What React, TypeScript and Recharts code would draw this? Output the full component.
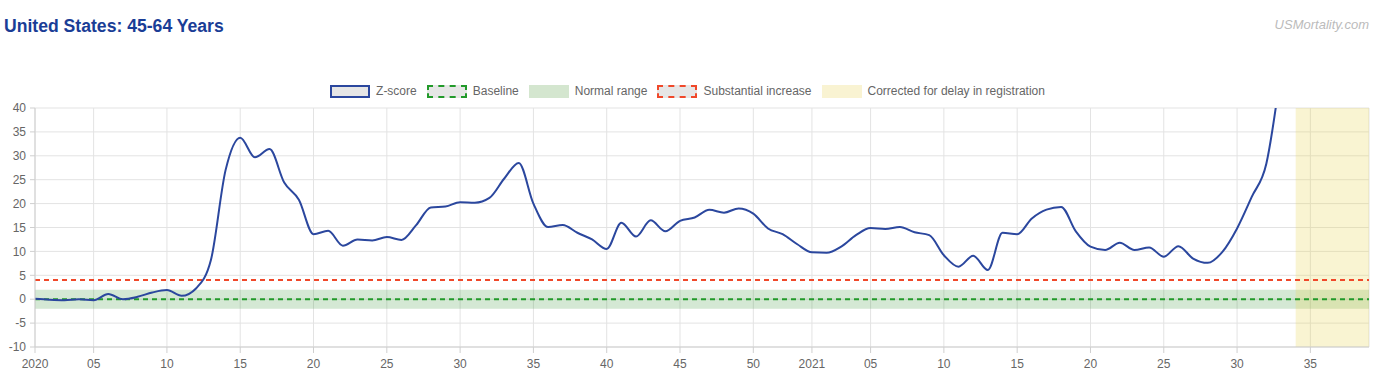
import React from "react";
import {
  LineChart,
  Line,
  XAxis,
  YAxis,
  CartesianGrid,
  ReferenceArea,
  ReferenceLine,
} from "recharts";

// weekly z-scores, 2020 w1 .. 2021 w33 (index = weeks since 2020 w1)
const zScores = [
  0.1, -0.1, -0.2, 0.0, -0.2, 1.1, 0.0, 0.5, 1.4, 1.9,
  0.7, 2.3, 8.2, 27.0, 33.8, 29.7, 31.4, 24.4, 20.8, 13.6,
  14.3, 11.2, 12.5, 12.3, 13.0, 12.4, 15.5, 19.2, 19.4, 20.3,
  20.2, 21.2, 25.2, 28.5, 20.0, 15.1, 15.5, 13.9, 12.5, 10.5,
  16.0, 13.1, 16.5, 14.2, 16.4, 17.1, 18.7, 18.1, 19.0, 17.9,
  14.8, 13.6, 11.5, 9.8, 9.7, 11.0, 13.4, 14.9, 14.7, 15.1,
  14.0, 13.4, 9.2, 6.8, 9.1, 6.1, 13.9, 13.6, 16.9, 18.75,
  19.3, 14.2, 11.0, 10.3, 11.8, 10.3, 10.8, 8.9, 11.1, 8.5,
  7.6, 9.9, 14.8, 21.4, 28.4, 48.0,
];

const tickIndexes = [0, 4, 9, 14, 19, 24, 29, 34, 39, 44, 49, 53, 57, 62, 67, 72, 77, 82, 87];
const tickLabels = ["2020", "05", "10", "15", "20", "25", "30", "35", "40", "45", "50", "2021", "05", "10", "15", "20", "25", "30", "35"];
const yTicks = [-10, -5, 0, 5, 10, 15, 20, 25, 30, 35, 40];

const lastWeekIndex = 91;
const delayStart = 86;
const baseline = 0;
const normalLow = -2;
const normalHigh = 2;
const substantialIncrease = 4;

const data = zScores.map((z, i) => ({ i, z }));

const FONT = "Arial, 'Liberation Sans', Helvetica, sans-serif";
const LINE_BLUE = "#2b479e";
const GREEN = "#229a2a";
const RED = "#f0482a";

const legendItems = [
  { label: "Z-score", fill: "#e6e6e6", border: `2px solid ${LINE_BLUE}` },
  { label: "Baseline", fill: "#e6e6e6", border: `2px dashed ${GREEN}` },
  { label: "Normal range", fill: "#d4e6cf", border: "none" },
  { label: "Substantial increase", fill: "#e6e6e6", border: `2px dashed ${RED}` },
  { label: "Corrected for delay in registration", fill: "#f9f3d2", border: "none" },
];

const ChartLegend = () => (
  <div
    style={{
      position: "absolute",
      left: 0,
      top: 84,
      width: 1375,
      height: 14,
      display: "flex",
      justifyContent: "center",
      gap: 10,
      fontFamily: FONT,
      fontSize: 12,
      color: "#666",
    }}
  >
    {legendItems.map((it) => (
      <div key={it.label} style={{ display: "flex", alignItems: "center" }}>
        <span
          style={{
            display: "inline-block",
            width: 40,
            height: 13,
            boxSizing: "border-box",
            background: it.fill,
            border: it.border,
            marginRight: 6,
          }}
        />
        <span>{it.label}</span>
      </div>
    ))}
  </div>
);

export default function App() {
  return (
    <div style={{ position: "absolute", left: 0, top: 0, width: 1375, height: 388, background: "#fff" }}>
      <div
        style={{
          position: "absolute",
          left: 4,
          top: 15,
          fontFamily: FONT,
          fontWeight: "bold",
          fontSize: 17.6,
          lineHeight: "22px",
          color: "#1a3d96",
        }}
      >
        United States: 45-64 Years
      </div>
      <div
        style={{
          position: "absolute",
          right: 6,
          top: 17,
          fontFamily: FONT,
          fontStyle: "italic",
          fontSize: 13,
          lineHeight: "15px",
          color: "#bbb",
        }}
      >
        USMortality.com
      </div>
      <ChartLegend />
      <LineChart width={1375} height={388} data={data} margin={{ top: 108, right: 6, bottom: 11, left: 0 }}>
        <CartesianGrid stroke="#e3e3e3" />
        <XAxis
          type="number"
          dataKey="i"
          domain={[0, lastWeekIndex]}
          ticks={tickIndexes}
          tickFormatter={(v: number) => tickLabels[tickIndexes.indexOf(v)] ?? ""}
          interval={0}
          height={30}
          tickSize={6}
          tickMargin={6}
          stroke="#cfcfcf"
          tick={{ fill: "#666", fontSize: 12, fontFamily: FONT }}
        />
        <YAxis
          type="number"
          domain={[-10, 40]}
          ticks={yTicks}
          allowDataOverflow
          interval={0}
          width={35}
          tickSize={5}
          tickMargin={4}
          stroke="#cfcfcf"
          tick={{ fill: "#666", fontSize: 12, fontFamily: FONT }}
        />
        <ReferenceArea y1={normalLow} y2={normalHigh} fill="#3c963c" fillOpacity={0.22} stroke="none" ifOverflow="hidden" />
        <ReferenceArea x1={delayStart} x2={lastWeekIndex} fill="#e8d44a" fillOpacity={0.25} stroke="none" ifOverflow="hidden" />
        <ReferenceLine y={baseline} stroke={GREEN} strokeWidth={2} strokeDasharray="5 4" />
        <ReferenceLine y={substantialIncrease} stroke={RED} strokeWidth={2} strokeDasharray="5 4" />
        <Line
          type="monotone"
          dataKey="z"
          stroke={LINE_BLUE}
          strokeWidth={2}
          dot={false}
          isAnimationActive={false}
        />
      </LineChart>
    </div>
  );
}
